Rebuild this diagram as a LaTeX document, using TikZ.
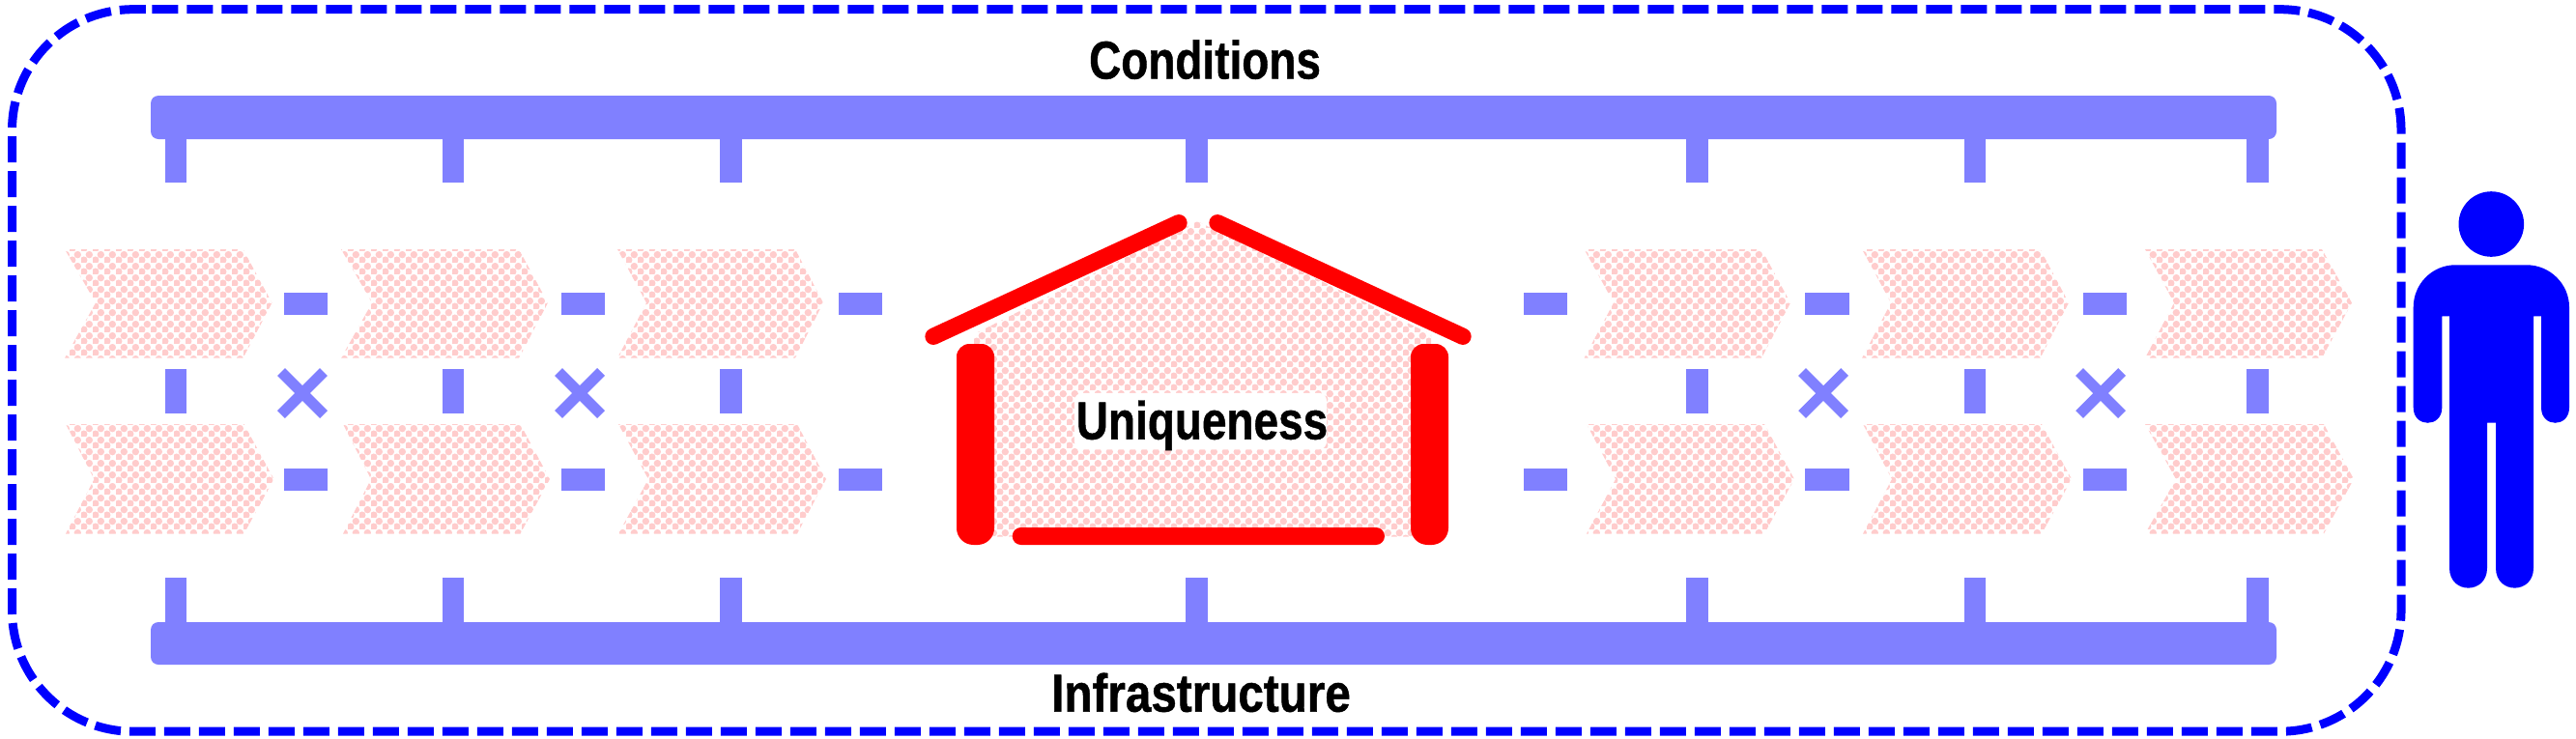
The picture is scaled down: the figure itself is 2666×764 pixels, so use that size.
\documentclass[tikz,border=0pt]{standalone}
\usepackage{fontspec}
\usetikzlibrary{patterns}
\newfontfamily\labelfont[FakeStretch=0.83,FakeBold=0.8]{Liberation Sans Bold}
\definecolor{periw}{HTML}{8080FF}
\definecolor{pinkd}{HTML}{FFCCCC}
\pgfdeclarepatternformonly{pinkdots}{\pgfqpoint{0pt}{0pt}}{\pgfqpoint{9pt}{9pt}}{\pgfqpoint{9pt}{9pt}}{%
  \pgfpathcircle{\pgfqpoint{2.25pt}{2.25pt}}{3pt}%
  \pgfpathcircle{\pgfqpoint{6.75pt}{6.75pt}}{3pt}%
  \pgfusepath{fill}}
\tikzset{
  barpart/.style={fill=periw},
  crosspart/.style={draw=periw,line width=8.25pt},
  texture/.style={pattern=pinkdots,pattern color=pinkd},
  wall/.style={fill=red},
  roofline/.style={draw=red,line width=13pt,line cap=round},
  title/.style={font=\labelfont\fontsize{41.5}{41.5}\selectfont,text=black,anchor=base,inner sep=0pt},
  outer/.style={draw=blue,line width=6.75pt,dash pattern=on 20.25pt off 6.75pt,rounded corners=93.75pt},
}
\begin{document}
\begin{tikzpicture}[x=0.75pt,y=-0.75pt]
\useasboundingbox (0,0) rectangle (2666,764);
\fill[white] (0,0) rectangle (2666,764);
% dashed frame
\draw[outer] (157.3,9.7) -- (2485,9.7) -- (2485,757.2) -- (12.5,757.2) -- (12.5,9.7) -- (157.3,9.7);
% bars
\fill[barpart,rounded corners=6pt] (156,99) rectangle (2356,144);
\fill[barpart,rounded corners=6pt] (156,644) rectangle (2356,688);
% stubs
\foreach \a/\b in {171/193,458/480,745/768,1227/1250,1745/1768,2033/2055,2325/2348}{
  \fill[barpart] (\a,143) rectangle (\b,189);
  \fill[barpart] (\a,598) rectangle (\b,645);
}
\foreach \a/\b in {171/193,458/480,745/768,1745/1768,2033/2055,2325/2348}{
  \fill[barpart] (\a,382) rectangle (\b,428);
}
% dashes
\foreach \a/\b in {294/339,581/626,868/913,1577/1622,1868/1914,2156/2201}{
  \fill[barpart] (\a,303) rectangle (\b,326);
  \fill[barpart] (\a,484.7) rectangle (\b,508);
}
% crosses
\foreach \a/\b in {287/339,574/626,1861/1913,2148/2200}{
  \draw[crosspart] (\a+4,385) -- (\b-4,429);
  \draw[crosspart] (\a+4,429) -- (\b-4,385);
}
% chevrons
\foreach \l/\n/\s/\t in {67/99/251.5/281.5,353/385/537/567,639/669/823/852,1639.5/1670/1823/1853,1927/1957/2111.5/2141,2220/2250/2403/2434}{
  \fill[texture] (\l,258) -- (\s,258) -- (\t,313.5) -- (\s,370.7) -- (\l,370.7) -- (\n,313.5) -- cycle;
}
\foreach \l/\n/\s/\t in {68/97.5/252.5/283.5,355/384/538.5/569,640/671/825/855,1642/1672/1826/1857,1928/1958/2113/2144,2220/2252/2405/2436}{
  \fill[texture] (\l,439) -- (\s,439) -- (\t,496) -- (\s,552.5) -- (\l,552.5) -- (\n,496) -- cycle;
}
% house
\fill[texture] (1239,229) -- (1481,346) -- (1481,555.5) -- (1008,555.5) -- (1008,346) -- cycle;
\draw[roofline] (966,348.3) -- (1220,230.7);
\draw[roofline] (1260,230.7) -- (1514,348.3);
\fill[wall] [rounded corners=13pt] (990,460) -- (990,564) -- (1029,564) -- (1029,460) [rounded corners=10pt] -- (1029,356) -- (990,356) -- cycle;
\fill[wall] [rounded corners=13pt] (1460,460) -- (1460,564) -- (1499,564) -- (1499,460) [rounded corners=10pt] -- (1499,356) -- (1460,356) -- cycle;
\fill[wall,rounded corners=6.7pt] (1047.7,546) rectangle (1433,564);
% labels
\fill[white,rounded corners=6pt] (1112,406.8) rectangle (1373,465.3);
\node[title] (conditions) at (1247,81.5) {Conditions};
\node[title] (uniqueness) at (1244,454.6) {Uniqueness};
\node[title] (infrastructure) at (1243,736.7) {\scalebox{1.037}[1]{Infrastructure}};
% person
\fill[blue] (2578.3,232) ellipse [x radius=33.8, y radius=33.8];
\fill[blue] (2541,274.3) -- (2615,274.3)
  .. controls (2639,274.3) and (2659,294) .. (2659,318)
  -- (2659,422) .. controls (2659,443) and (2630,443) .. (2630,422)
  -- (2630,327.3) -- (2622,327.3) -- (2622,588)
  .. controls (2622,615.5) and (2583,615.5) .. (2583,588)
  -- (2583,437.5) -- (2574,437.5) -- (2574,588)
  .. controls (2574,615.5) and (2535,615.5) .. (2535,588)
  -- (2535,327.3) -- (2527.3,327.3) -- (2527.3,422)
  .. controls (2527.3,443) and (2497.7,443) .. (2497.7,422)
  -- (2497.7,318) .. controls (2497.7,294) and (2517,274.3) .. (2541,274.3) -- cycle;
\end{tikzpicture}
\end{document}
